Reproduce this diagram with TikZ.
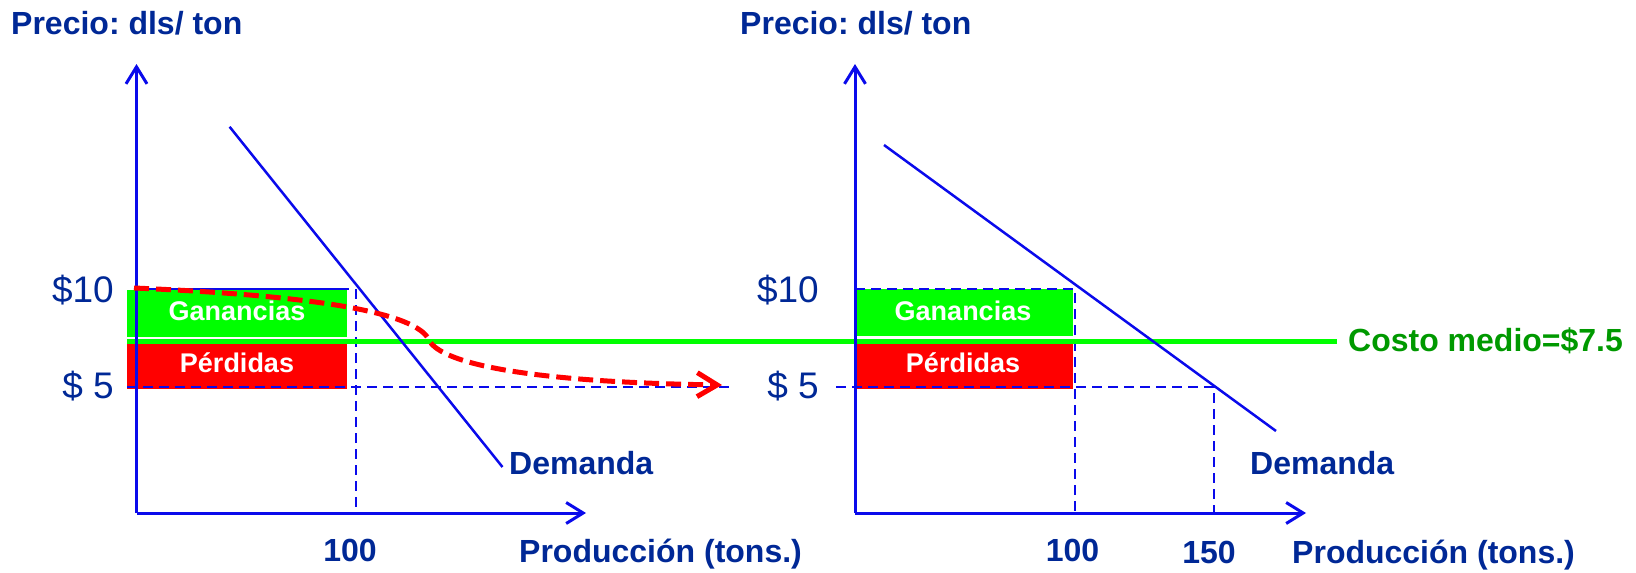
\documentclass[tikz,border=0pt]{standalone}
\usepackage{fontspec}
\setmainfont{Liberation Sans}
\usetikzlibrary{arrows.meta}
\definecolor{axblue}{RGB}{10,10,235}
\definecolor{txtblue}{RGB}{0,40,150}
\definecolor{brgreen}{RGB}{0,255,0}
\definecolor{dkgreen}{RGB}{0,153,0}
\definecolor{brred}{RGB}{255,0,0}
\newcommand\fsz[1]{\fontsize{#1}{#1}\selectfont}
\frenchspacing
\begin{document}
\begin{tikzpicture}[x=1pt,y=-1pt,
  axisline/.style={draw=axblue,line width=3pt,-{Straight Barb[length=17pt,width=21pt]}},
  demandline/.style={draw=axblue,line width=2.5pt},
  guide/.style={draw=axblue,line width=2pt,dash pattern=on 10pt off 6pt},
  costline/.style={draw=brgreen,line width=5pt},
  shiftcurve/.style={draw=brred,line width=5pt,dash pattern=on 15pt off 7pt,-{Straight Barb[length=20pt,width=24pt]}},
  boldlbl/.style={inner sep=0pt,text=txtblue,font=\fsz{32}\bfseries},
  pricelbl/.style={inner sep=0pt,text=txtblue,font=\fsz{37}},
  boxlbl/.style={inner sep=0pt,text=white,font=\fsz{27}\bfseries}]
\useasboundingbox (0,0) rectangle (1636,573);
% coordinates
\coordinate (oL) at (136.5,513);
\coordinate (yTopL) at (136.5,64);
\coordinate (xEndL) at (586,513);
\coordinate (oR) at (855,513);
\coordinate (yTopR) at (855,64);
\coordinate (xEndR) at (1306,513);
% rectangles
\fill[brgreen] (127,290) rectangle (347,336.5);
\fill[brred] (127,344) rectangle (347,389);
\fill[brgreen] (855,289) rectangle (1073,336);
\fill[brred] (855,343) rectangle (1073,388.5);
% guides left
\coordinate (tenL0) at (134,289);
\coordinate (tenL1) at (356,289);
\coordinate (qL) at (356,513);
\coordinate (fiveL0) at (127,386.5);
\coordinate (fiveL1) at (732,386.5);
\draw[draw=axblue,line width=2.5pt] (tenL0) -- (349,289);
\draw[guide] (tenL1) -- (qL);
\draw[guide] (fiveL0) -- (fiveL1);
% guides right
\coordinate (tenR0) at (855,289);
\coordinate (tenR1) at (1075,289);
\coordinate (qR) at (1075,513);
\coordinate (fiveR0) at (836,386.5);
\coordinate (fiveR1) at (1213.5,386.5);
\coordinate (q2R) at (1213.5,513);
\draw[guide] (tenR0) -- (tenR1) -- (qR);
\draw[guide] (fiveR0) -- (fiveR1) -- (q2R);
% cost line
\coordinate (cost0) at (127,341);
\coordinate (cost1) at (1337,341);
\draw[costline] (cost0) -- (cost1);
% demand
\coordinate (dLa) at (229.6,126.8);
\coordinate (dLb) at (502.5,467);
\coordinate (dRa) at (884,145);
\coordinate (dRb) at (1276,431);
\draw[demandline] (dLa) -- (dLb);
\draw[demandline] (dRa) -- (dRb);
% axes
\draw[axisline] (oL) -- (yTopL);
\draw[axisline] (oL) -- (xEndL);
\draw[axisline] (oR) -- (yTopR);
\draw[axisline] (oR) -- (xEndR);
% red shift curve
\coordinate (c0) at (134,288);
\coordinate (c1) at (428,338);
\coordinate (c2) at (722,385);
\draw[shiftcurve] (c0) .. controls (300,295) and (410,310) .. (c1)
  .. controls (436,362) and (520,382) .. (c2);
% texts left
\node[boldlbl,anchor=base west] (precioL) at (11,34) {Precio: dls/ ton};
\node[pricelbl,anchor=base east] (tenLblL) at (114,302.5) {\$10};
\node[pricelbl,anchor=base east] (fiveLblL) at (114,398) {\$ 5};
\node[boxlbl,anchor=base] (ganL) at (237,320.5) {Ganancias};
\node[boxlbl,anchor=base] (perL) at (237,372) {Pérdidas};
\node[boldlbl,anchor=base west] (demL) at (509,474) {Demanda};
\node[boldlbl,anchor=base] (cienL) at (350,561) {100};
\node[boldlbl,anchor=base west] (prodL) at (519,562) {Producción (tons.)};
% texts right
\node[boldlbl,anchor=base west] (precioR) at (740,34) {Precio: dls/ ton};
\node[pricelbl,anchor=base east] (tenLblR) at (819,302.5) {\$10};
\node[pricelbl,anchor=base east] (fiveLblR) at (819,398) {\$ 5};
\node[boxlbl,anchor=base] (ganR) at (963,320.5) {Ganancias};
\node[boxlbl,anchor=base] (perR) at (963,372) {Pérdidas};
\node[boldlbl,anchor=base west] (demR) at (1250,474) {Demanda};
\node[boldlbl,anchor=base] (cienR) at (1072.5,561) {100};
\node[boldlbl,anchor=base] (cincR) at (1209,563) {150};
\node[boldlbl,anchor=base west] (prodR) at (1292,563) {Producción (tons.)};
\node[boldlbl,text=dkgreen,anchor=base west] (costLbl) at (1348,351.5) {Costo medio=\$7.5};
\end{tikzpicture}
\end{document}
